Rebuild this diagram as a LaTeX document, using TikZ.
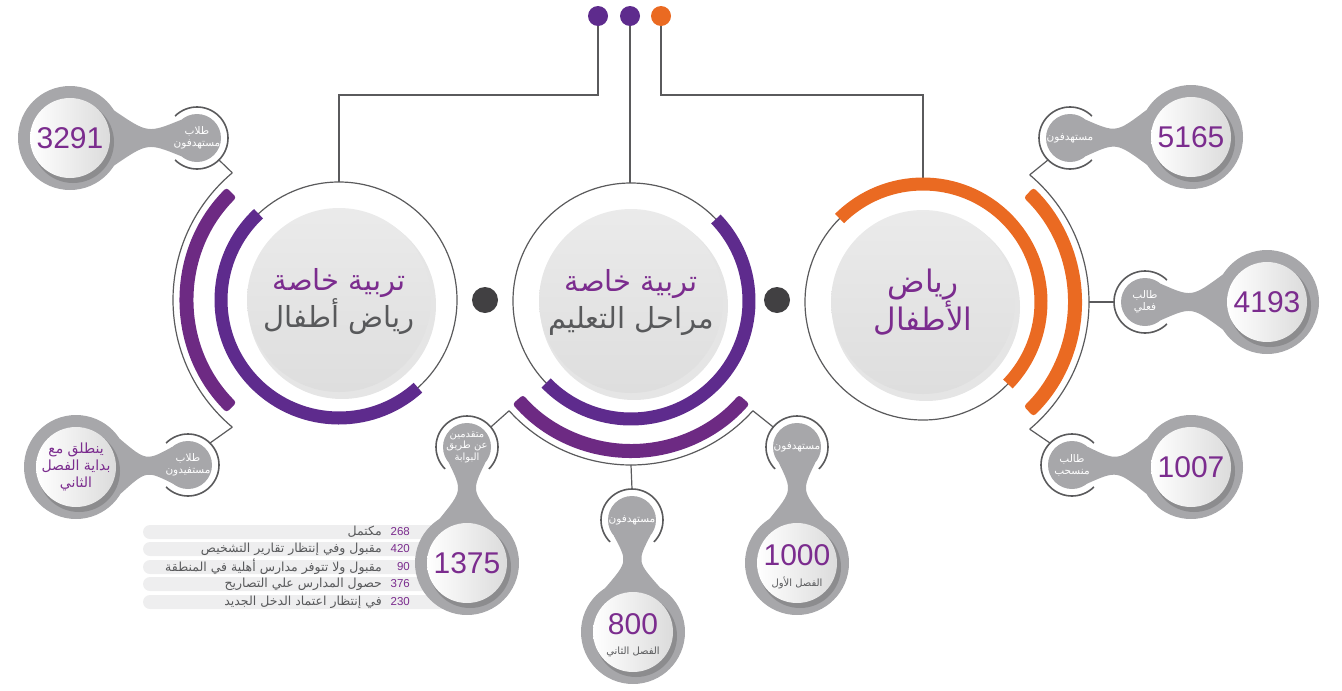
\documentclass[tikz,border=0pt]{standalone}
\usepackage{fontspec}
\usetikzlibrary{calc}
\TeXXeTstate=1
\newfontfamily\arfont[Script=Arabic]{DejaVu Sans}
\newfontfamily\numfont{Liberation Sans}
\definecolor{pur}{HTML}{5E2B8D}
\definecolor{purB}{HTML}{6D2A83}
\definecolor{purT}{HTML}{7B2C8E}
\definecolor{org}{HTML}{EA6A22}
\definecolor{bub}{HTML}{A7A7AA}
\definecolor{ln}{HTML}{5A5A5C}
\definecolor{dotc}{HTML}{414042}
\definecolor{txtg}{HTML}{58595B}
\definecolor{barc}{HTML}{EEEEEF}
\tikzset{
 conn/.style={draw=ln, line width=1.2pt},
 outl/.style={draw=ln, line width=1.6pt},
 numtxt/.style={text=purT, font=\numfont\fontsize{30}{30}\selectfont, inner sep=0pt},
 lbl/.style={text=white, font=\arfont\fontsize{10.5}{12}\selectfont, align=center, inner sep=0pt},
 sublbl/.style={text=txtg, font=\arfont\fontsize{10}{11}\selectfont, inner sep=0pt},
 listnum/.style={text=purT, font=\numfont\fontsize{11.5}{12}\selectfont, anchor=east, inner sep=0pt},
 listtxt/.style={text=txtg, font=\arfont\fontsize{12.5}{14}\selectfont, anchor=east, inner sep=0pt},
 bigtxt/.style={align=center, inner sep=0pt},
 topdot/.style={circle, minimum size=20pt, inner sep=0pt},
 darkdot/.style={circle, fill=dotc, minimum size=26pt, inner sep=0pt},
}
\newcommand\dumbbell[4]{%
  \coordinate (#1B) at #2; \coordinate (#1S) at #3;
  \coordinate (#1P1) at ($(#1S)!24pt!50:(#1B)$);
  \coordinate (#1P2) at ($(#1S)!24pt!-50:(#1B)$);
  \coordinate (#1Q1) at ($(#1B)!52pt!-32:(#1S)$);
  \coordinate (#1Q2) at ($(#1B)!52pt!32:(#1S)$);
  \coordinate (#1m1) at ($(#1P1)!0.5!(#1Q1)$);
  \coordinate (#1m2) at ($(#1P2)!0.5!(#1Q2)$);
  \coordinate (#1K1) at ($(#1m1)!0.40!(#1m2)$);
  \coordinate (#1K2) at ($(#1m2)!0.40!(#1m1)$);
  \fill[bub] (#1P1) .. controls (#1K1) .. (#1Q1) -- (#1Q2) .. controls (#1K2) .. (#1P2) -- cycle;
  \fill[bub] (#1S) circle[radius=24];
  \fill[bub] (#1B) circle[radius=52];
  \fill[black, opacity=0.16] ($(#1B)+(3,4)$) circle[radius=41];
  \shade[left color=white, right color=black!14] (#1B) circle[radius=40];
  \draw[outl] ($(#1S)+(#4+45:31)$) arc[start angle=#4+45, end angle=#4+315, radius=31];
}
\begin{document}
\begin{tikzpicture}[x=1pt,y=-1pt]
\useasboundingbox (0,0) rectangle (1342,691);
\coordinate (C1) at (339,300);
\coordinate (C2) at (631,301);
\coordinate (C3) at (923,302);

% top dots and lines
\node[topdot, fill=pur] (d1) at (598,16) {};
\node[topdot, fill=pur] (d2) at (630,16) {};
\node[topdot, fill=org] (d3) at (661,16) {};
\coordinate (t1) at ($(C1)+(-90:118)$);
\coordinate (t2) at ($(C2)+(-90:118)$);
\coordinate (t3) at ($(C3)+(-90:118)$);
\draw[conn] (d1) -- ++(0,79) -| (t1);
\draw[conn] (d2) -- (d2 |- t2);
\draw[conn] (d3) -- ++(0,79) -| (t3);

% dark dots
\node[darkdot] (g1) at (485,300) {};
\node[darkdot] (g2) at (777,300) {};

% thin circles
\foreach \c in {C1,C2,C3} \draw[conn] (\c) circle[radius=118];

% outer thin arcs
\draw[conn] ($(C1)+(130:166)$) arc[start angle=130, end angle=230, radius=166];
\draw[conn] ($(C2)+(42:164)$) arc[start angle=42, end angle=138, radius=164];
\draw[conn] ($(C3)+(-50:166)$) arc[start angle=-50, end angle=50, radius=166];

% inner arcs
\draw[pur, line width=13pt] ($(C1)+(48:118)$) arc[start angle=48, end angle=227, radius=118];
\draw[pur, line width=13pt] ($(C2)+(-44:118)$) arc[start angle=-44, end angle=136, radius=118];
\draw[org, line width=13pt] ($(C3)+(225:118)$) arc[start angle=225, end angle=404, radius=118];

% outer thick arcs
\fill[purB, rounded corners=3pt] ($(C1)+(135:145)$) arc[start angle=135, end angle=225, radius=145] -- ($(C1)+(225:159)$) arc[start angle=225, end angle=135, radius=159] -- cycle;
\fill[purB, rounded corners=3pt] ($(C2)+(41:143)$) arc[start angle=41, end angle=139, radius=143] -- ($(C2)+(139:157)$) arc[start angle=139, end angle=41, radius=157] -- cycle;
\fill[org, rounded corners=3pt] ($(C3)+(-46:145)$) arc[start angle=-46, end angle=46, radius=145] -- ($(C3)+(46:159)$) arc[start angle=46, end angle=-46, radius=159] -- cycle;

% centre discs
\foreach \c in {C1,C2,C3} {
  \fill[black, opacity=0.10] ($(\c)+(3,5)$) circle[radius=94];
  \shade[top color=black!8, bottom color=black!13] (\c) circle[radius=92];
}

% list bars
\foreach \y in {532,549,567,584,602}
  \fill[barc, rounded corners=7pt] (143,\y-7) rectangle (450,\y+7);
\node[listnum] (n1) at (410,532) {268};
\node[listnum] (n2) at (410,549) {420};
\node[listnum] (n3) at (410,567) {90};
\node[listnum] (n4) at (410,584) {376};
\node[listnum] (n5) at (410,602) {230};
\node[listtxt] (l1) at (382,532) {\beginR مكتمل\endR};
\node[listtxt] (l2) at (382,549) {\beginR مقبول وفي إنتظار تقارير التشخيص\endR};
\node[listtxt] (l3) at (382,567) {\beginR مقبول ولا تتوفر مدارس أهلية في المنطقة\endR};
\node[listtxt] (l4) at (382,584) {\beginR حصول المدارس علي التصاريح\endR};
\node[listtxt] (l5) at (382,602) {\beginR في إنتظار اعتماد الدخل الجديد\endR};

% bubbles
\dumbbell{a}{(70,138)}{(197,138)}{180}
\dumbbell{b}{(76,467)}{(188,465)}{180}
\dumbbell{c}{(467,563)}{(467,447)}{90}
\dumbbell{d}{(633,632)}{(632,520)}{90}
\dumbbell{e}{(797,563)}{(797,447)}{90}
\dumbbell{f}{(1191,137)}{(1070,138)}{0}
\dumbbell{g}{(1267,302)}{(1145,302)}{0}
\dumbbell{h}{(1191,467)}{(1072,465)}{0}

% connectors
\draw[conn] ($(C1)+(230:166)$) -- ($(aS)+(45:31)$);
\draw[conn] ($(C1)+(130:166)$) -- ($(bS)+(-45:31)$);
\draw[conn] ($(C2)+(138:164)$) -- ($(cS)+(-40:31)$);
\draw[conn] ($(C2)+(90:164)$) -- ($(dS)+(-90:31)$);
\draw[conn] ($(C2)+(42:164)$) -- ($(eS)+(220:31)$);
\draw[conn] ($(C3)+(-50:166)$) -- ($(fS)+(135:31)$);
\draw[conn] ($(C3)+(0:166)$) -- ($(gS)+(180:31)$);
\draw[conn] ($(C3)+(50:166)$) -- ($(hS)+(225:31)$);

% numbers
\node[numtxt] (na) at (aB) {3291};
\node[numtxt] (nc) at (cB) {1375};
\node[numtxt] (nd) at ($(dB)+(0,-8)$) {800};
\node[numtxt] (ne) at ($(eB)+(0,-8)$) {1000};
\node[numtxt] (nf) at (fB) {5165};
\node[numtxt] (ng) at (gB) {4193};
\node[numtxt] (nh) at (hB) {1007};
\node[sublbl] (sd) at ($(dB)+(0,20)$) {\beginR الفصل الثاني\endR};
\node[sublbl] (se) at ($(eB)+(0,20)$) {\beginR الفصل الأول\endR};
\node[bigtxt, text=purT, font=\arfont\fontsize{14}{17}\selectfont] (tb) at (bB) {\beginR ينطلق مع\endR\\\beginR بداية الفصل\endR\\\beginR الثاني\endR};

% small labels
\node[lbl] (la) at (aS) {\beginR طلاب\endR\\\beginR مستهدفون\endR};
\node[lbl] (lb) at (bS) {\beginR طلاب\endR\\\beginR مستفيدون\endR};
\node[lbl, font=\arfont\fontsize{10}{11.5}\selectfont] (lc) at (cS) {\beginR متقدمين\endR\\\beginR عن طريق\endR\\\beginR البوابة\endR};
\node[lbl] (ld) at (dS) {\beginR مستهدفون\endR};
\node[lbl] (le) at (eS) {\beginR مستهدفون\endR};
\node[lbl] (lf) at (fS) {\beginR مستهدفون\endR};
\node[lbl] (lg) at (gS) {\beginR طالب\endR\\\beginR فعلي\endR};
\node[lbl] (lh) at (hS) {\beginR طالب\endR\\\beginR منسحب\endR};

% centre titles
\node[bigtxt, font=\arfont\fontsize{29}{37}\selectfont] (T1) at ($(C1)+(0,2)$) {\textcolor{purT}{\beginR تربية خاصة\endR}\\\textcolor{txtg}{\beginR رياض أطفال\endR}};
\node[bigtxt, font=\arfont\fontsize{29}{37}\selectfont] (T2) at ($(C2)+(0,2)$) {\textcolor{purT}{\beginR تربية خاصة\endR}\\\textcolor{txtg}{\beginR مراحل التعليم\endR}};
\node[bigtxt, font=\arfont\fontsize{31}{38}\selectfont, text=purT] (T3) at (C3) {\beginR رياض\endR\\\beginR الأطفال\endR};
\end{tikzpicture}
\end{document}
